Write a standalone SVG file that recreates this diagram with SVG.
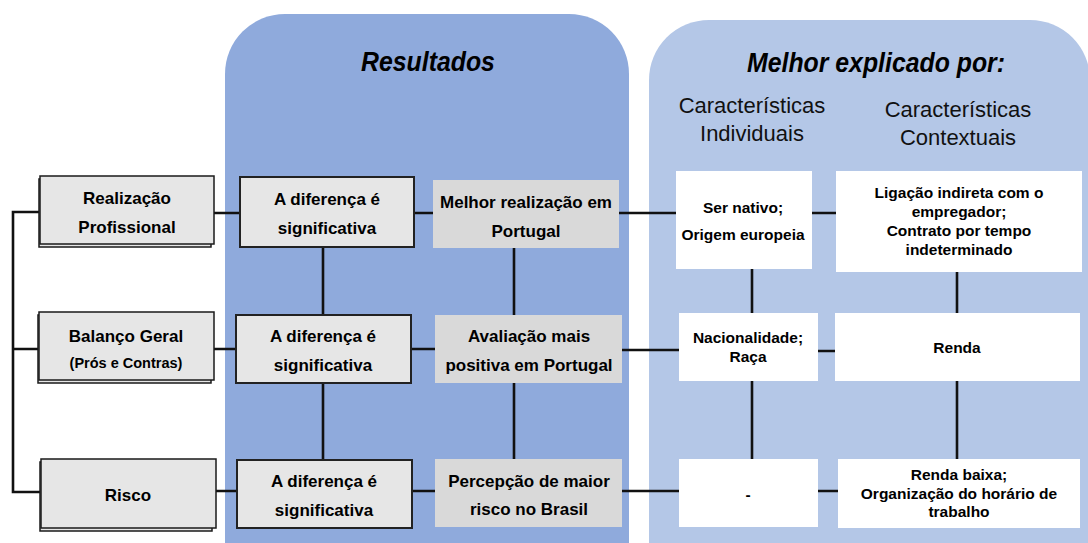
<svg xmlns="http://www.w3.org/2000/svg" width="1088" height="543" viewBox="0 0 1088 543">
<style>
.t{font-family:"Liberation Sans",Arial,sans-serif;font-weight:bold;fill:#000;text-anchor:middle}
.b{font-size:17px}
.s{font-size:15.5px}
.ttl{font-family:"Liberation Sans",Arial,sans-serif;font-weight:bold;font-style:italic;font-size:27px;text-anchor:middle;fill:#000}
.sub{font-family:"Liberation Sans",Arial,sans-serif;font-size:22px;text-anchor:middle;fill:#111}
.lb{fill:#E6E6E6;stroke:#1a1a1a;stroke-width:1.5}
.rb{fill:#E6E6E6;stroke:#222;stroke-width:2}
.gb{fill:#D9D9D9}
.wb{fill:#FFFFFF}
.ln{stroke:#111;stroke-width:2.6;fill:none}
</style>
<rect width="1088" height="543" fill="#FFFFFF"/>
<g id="panel-resultados">
<path d="M225,543 V74 A60,60 0 0 1 285,14 H569 A60,60 0 0 1 629,74 V543 Z" fill="#8FAADC"/>
<text class="ttl" transform="translate(428,71) scale(0.92,1)" x="0" y="0">Resultados</text>
</g>
<g id="panel-explicado">
<path d="M649,543 V80 A60,60 0 0 1 709,20 H1030 A60,60 0 0 1 1090,80 V543 Z" fill="#B4C7E7"/>
<text class="ttl" transform="translate(876,72) scale(0.92,1)" x="0" y="0">Melhor explicado por:</text>
<text class="sub" x="752" y="113">Características</text>
<text class="sub" x="752" y="141">Individuais</text>
<text class="sub" x="958" y="117">Características</text>
<text class="sub" x="958" y="145">Contextuais</text>
</g>
<g id="connectors">
<path class="ln" d="M40,212 H13 V492 H41 M13,349 H39"/>
<path class="ln" d="M214,213 H240 M414,213 H433 M619,213 H676 M812,213 H836"/>
<path class="ln" d="M214,349 H236 M411,349 H435 M622,350 H679 M818,351 H835"/>
<path class="ln" d="M216,491 H237 M412,491 H435 M622,491 H679 M818,491 H838"/>
<path class="ln" d="M323,247 V315 M323,383 V460 M514,248 V315 M514,383 V459 M752,269 V313 M752,381 V459 M957,272 V313 M957,381 V459"/>
</g>
<g id="n-realizacao">
<rect class="lb" x="39" y="179" width="172" height="68"/>
<rect class="lb" x="40" y="176" width="174" height="68"/>
<text class="t b" x="127" y="204">Realização</text>
<text class="t b" x="127" y="233">Profissional</text>
</g>
<g id="n-balanco">
<rect class="lb" x="38" y="315" width="173" height="68"/>
<rect class="lb" x="39" y="312" width="175" height="68"/>
<text class="t b" x="126" y="342">Balanço Geral</text>
<text class="t" x="126" y="368" style="font-size:14.5px">(Prós e Contras)</text>
</g>
<g id="n-risco">
<rect class="lb" x="40" y="462" width="172" height="69"/>
<rect class="lb" x="41" y="459" width="175" height="69"/>
<text class="t b" x="128" y="501">Risco</text>
</g>
<g id="r1a">
<rect class="rb" x="240" y="177" width="174" height="70"/>
<text class="t b" x="327" y="205">A diferença é</text>
<text class="t b" x="327" y="234">significativa</text>
</g>
<g id="r2a">
<rect class="rb" x="236" y="315" width="175" height="68"/>
<text class="t b" x="323" y="342">A diferença é</text>
<text class="t b" x="323" y="371">significativa</text>
</g>
<g id="r3a">
<rect class="rb" x="237" y="460" width="175" height="68"/>
<text class="t b" x="324" y="487">A diferença é</text>
<text class="t b" x="324" y="516">significativa</text>
</g>
<g id="r1b">
<rect class="gb" x="433" y="180" width="186" height="68"/>
<text class="t b" x="526" y="208">Melhor realização em</text>
<text class="t b" x="526" y="237">Portugal</text>
</g>
<g id="r2b">
<rect class="gb" x="435" y="315" width="187" height="68"/>
<text class="t b" x="529" y="342">Avaliação mais</text>
<text class="t b" x="529" y="371">positiva em Portugal</text>
</g>
<g id="r3b">
<rect class="gb" x="435" y="459" width="187" height="68"/>
<text class="t b" x="529" y="487">Percepção de maior</text>
<text class="t b" x="529" y="515">risco no Brasil</text>
</g>
<g id="i1">
<rect class="wb" x="676" y="171" width="136" height="98"/>
<text class="t s" x="743" y="213">Ser nativo;</text>
<text class="t s" x="743" y="240">Origem europeia</text>
</g>
<g id="i2">
<rect class="wb" x="679" y="313" width="139" height="68"/>
<text class="t s" x="748" y="343">Nacionalidade;</text>
<text class="t s" x="748" y="362">Raça</text>
</g>
<g id="i3">
<rect class="wb" x="679" y="459" width="139" height="68"/>
<text class="t s" x="748" y="500">-</text>
</g>
<g id="c1">
<rect class="wb" x="836" y="171" width="246" height="101"/>
<text class="t s" x="959" y="198">Ligação indireta com o</text>
<text class="t s" x="959" y="217">empregador;</text>
<text class="t s" x="959" y="236">Contrato por tempo</text>
<text class="t s" x="959" y="255">indeterminado</text>
</g>
<g id="c2">
<rect class="wb" x="835" y="313" width="245" height="68"/>
<text class="t s" x="957" y="353">Renda</text>
</g>
<g id="c3">
<rect class="wb" x="838" y="459" width="242" height="69"/>
<text class="t s" x="959" y="480">Renda baixa;</text>
<text class="t s" x="959" y="499">Organização do horário de</text>
<text class="t s" x="959" y="517">trabalho</text>
</g>
</svg>
